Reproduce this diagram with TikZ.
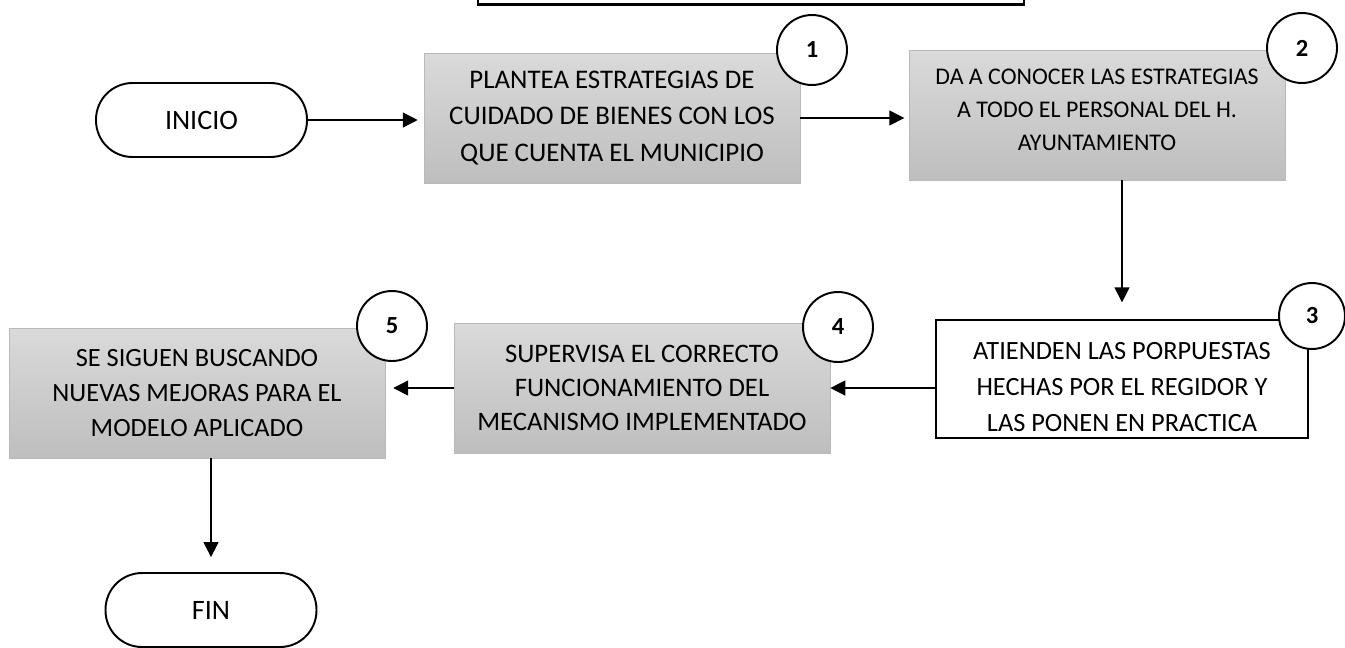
\documentclass[tikz,border=0pt]{standalone}
\usepackage{fontspec}
\setmainfont{Carlito}
\usetikzlibrary{arrows.meta}
\definecolor{bxTop}{RGB}{218,218,218}
\definecolor{bxBot}{RGB}{190,190,190}
\definecolor{bxEdge}{RGB}{185,185,185}

\begin{document}
\begin{tikzpicture}[x=0.02cm, y=-0.02cm, >={Triangle[length=8.5pt,width=8.5pt]},
    proc/.style={draw=bxEdge, top color=bxTop, bottom color=bxBot, align=center,
      minimum width=7.52cm, minimum height=2.6cm, inner sep=0pt},
    term/.style={draw, line width=1.1pt, rounded corners=0.73cm, align=center,
      minimum width=4.22cm, minimum height=1.48cm, inner sep=0pt,
      font=\fontsize{16}{20}\selectfont},
    numc/.style={circle, draw, line width=1.1pt, fill=white, minimum size=1.4cm,
      inner sep=0pt, font=\fontsize{14}{16}\selectfont\bfseries},
    flow/.style={->, line width=0.75pt}]
        \useasboundingbox (0,0) rectangle (1345,647);
        \begin{scope}
          \clip (0,0) rectangle (1345,647);
          \draw[line width=1.2pt] (478,-30) |- (1024,4.5) -- (1024,-30);
        \end{scope}
        \node[term] (inicio) at (201.5,120) {INICIO};
        \node[proc, font=\fontsize{15.3}{21}\selectfont] (plantea) at (612,118)
          {PLANTEA ESTRATEGIAS DE\\CUIDADO DE BIENES CON LOS\\QUE CUENTA EL MUNICIPIO};
        \node[proc, font=\fontsize{13.6}{18.8}\selectfont] (conocer) at (1097,115)
          {DA A CONOCER LAS ESTRATEGIAS\\A TODO EL PERSONAL DEL H.\\AYUNTAMIENTO\rule[-6pt]{0pt}{6pt}};
        \node[draw, line width=1.1pt, fill=white, align=center, minimum width=7.44cm,
          minimum height=2.36cm, inner sep=0pt, font=\fontsize{15}{20.5}\selectfont]
          (atienden) at (1122,379)
          {\rule{0pt}{19pt}ATIENDEN LAS PORPUESTAS\\HECHAS POR EL REGIDOR Y\\LAS PONEN EN PRACTICA};
        \node[proc, font=\fontsize{15.2}{19.5}\selectfont] (supervisa) at (642,388)
          {SUPERVISA EL CORRECTO\\FUNCIONAMIENTO DEL\\MECANISMO IMPLEMENTADO};
        \node[proc, font=\fontsize{15}{20}\selectfont] (buscando) at (197,393)
          {SE SIGUEN BUSCANDO\\NUEVAS MEJORAS PARA EL\\MODELO APLICADO};
        \node[term] (fin) at (211,610) {FIN};
        \node[numc] (n1) at (812,50) {1};
        \node[numc] (n2) at (1302,48) {2};
        \node[numc, minimum size=1.32cm] (n3) at (1312,316) {3};
        \node[numc] (n4) at (838,327) {4};
        \node[numc] (n5) at (392,326) {5};
        \draw[flow, shorten >=3.4pt] (inicio.east) -- (plantea.west |- inicio.east);
        \draw[flow, shorten >=2.5pt] (plantea.east) -- (conocer.west |- plantea.east);
        \draw[flow, shorten >=9.5pt] (conocer.south -| atienden.north) -- (atienden.north);
        \draw[flow] (atienden.west |- supervisa.east) -- (supervisa.east);
        \draw[flow, shorten >=4.5pt] (supervisa.west) -- (buscando.east |- supervisa.west);
        \draw[flow, shorten >=8.5pt] (fin.north |- buscando.south) -- (fin.north);
      \end{tikzpicture}
\end{document}
